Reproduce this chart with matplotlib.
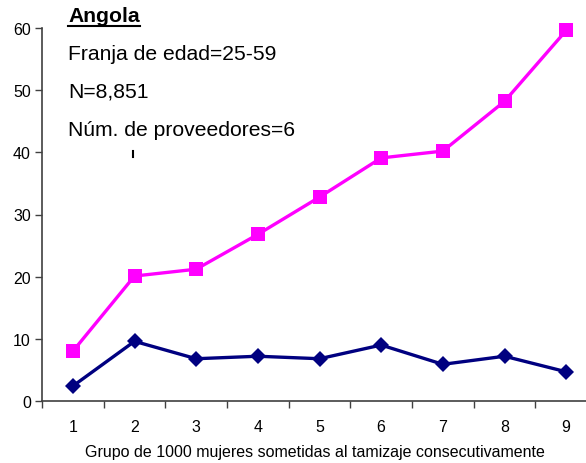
import matplotlib
matplotlib.use("Agg")
import matplotlib.pyplot as plt
from matplotlib.lines import Line2D
import numpy as np

plt.rcParams['font.family'] = ['Liberation Sans', 'DejaVu Sans']

groups = [1, 2, 3, 4, 5, 6, 7, 8, 9]
serie_rosa = [8.0, 20.1, 21.2, 26.8, 32.8, 39.1, 40.2, 48.2, 59.6]
serie_azul = [2.4, 9.6, 6.8, 7.2, 6.8, 9.0, 5.9, 7.2, 4.7]
y_ticks = [0, 10, 20, 30, 40, 50, 60]

W, H = 586, 464
fig = plt.figure(figsize=(W / 100, H / 100), dpi=100)
ax = fig.add_axes([42 / W, 1 - 402 / H, 555 / W, 373 / H])

x = np.array(groups)
ax.plot(x, serie_rosa, color='#FF00FF', lw=2.4, marker='s', ms=10,
        mew=0, solid_joinstyle='miter', clip_on=False, zorder=3)
ax.plot(x, serie_azul, color='#000080', lw=2.4, marker='D', ms=8.6,
        mew=0, clip_on=False, zorder=3)

ax.set_xlim(0.5, 9.5)
ax.set_ylim(0, 60)
ax.set_yticks(y_ticks)
ax.set_xticks(np.arange(0.5, 9.6, 1.0))
ax.set_xticklabels([])
ax.set_xticks(x, minor=True)
ax.set_xticklabels([str(g) for g in groups], minor=True)
ax.tick_params(axis='x', which='minor', length=0, pad=13, labelsize=11.5)
ax.tick_params(axis='x', which='major', length=5, width=1, color='#404040')
ax.tick_params(axis='y', length=5, width=1, color='#404040', labelsize=11.5, pad=3)

for side in ('top', 'right'):
    ax.spines[side].set_visible(False)
for side in ('left', 'bottom'):
    ax.spines[side].set_color('#404040')
    ax.spines[side].set_linewidth(1.2)

ax.set_xlabel('Grupo de 1000 mujeres sometidas al tamizaje consecutivamente',
              fontsize=11.5)
ax.xaxis.set_label_coords((315 - 42) / 555, -(453 - 402) / 373)
ax.xaxis.label.set_va('center')

# Annotation block
fs = 15.2
t = fig.text(68 / W, 1 - 16 / H, 'Angola', fontsize=fs, fontweight='bold',
             va='center', ha='left')
fig.text(68 / W, 1 - 54 / H, 'Franja de edad=25-59', fontsize=fs, va='center', ha='left')
fig.text(68 / W, 1 - 92 / H, 'N=8,851', fontsize=fs, va='center', ha='left')
fig.text(68 / W, 1 - 130 / H, 'Núm. de proveedores=6', fontsize=fs, va='center', ha='left')

fig.canvas.draw()
bb = t.get_window_extent()
fig.add_artist(Line2D([bb.x0 / W, bb.x1 / W], [1 - 26.5 / H, 1 - 26.5 / H],
                      transform=fig.transFigure, color='black', lw=1.5))
fig.add_artist(Line2D([133 / W, 133 / W], [1 - 152 / H, 1 - 158 / H],
                      transform=fig.transFigure, color='black', lw=1.5))

fig.savefig('out.png', dpi=100)
